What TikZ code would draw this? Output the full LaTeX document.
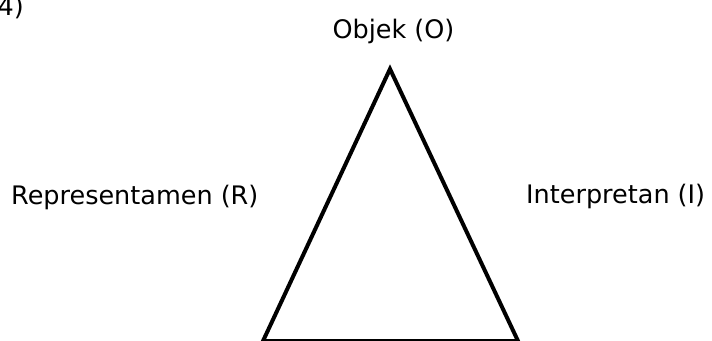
\documentclass[tikz,border=0pt]{standalone}
\usepackage{fontspec}
\setmainfont{DejaVu Sans}
\begin{document}
\begin{tikzpicture}[x=1pt,y=-1pt,
  lbl/.style={inner sep=0pt,font=\fontsize{25.5}{30}\selectfont},
  side/.style={line width=4pt,line join=miter}]
\useasboundingbox (0,0) rectangle (712,340);
\clip (0,0) rectangle (712,340);
% triangle corners; the base sits on the lower edge
\coordinate (O) at (390,69);
\coordinate (R) at (263,341);
\coordinate (I) at (518,341);
\draw[side] (R) -- (O) -- (I) -- cycle;
% labels
\node[lbl,anchor=base east] (num) at (24,16) {4)};
\node[lbl,anchor=base] (obj) at (393.5,38) {Objek (O)};
\node[lbl,anchor=base west] (rep) at (11,204) {Representamen (R)};
\node[lbl,anchor=base west] (int) at (526,203) {Interpretan (I)};
\end{tikzpicture}
\end{document}
